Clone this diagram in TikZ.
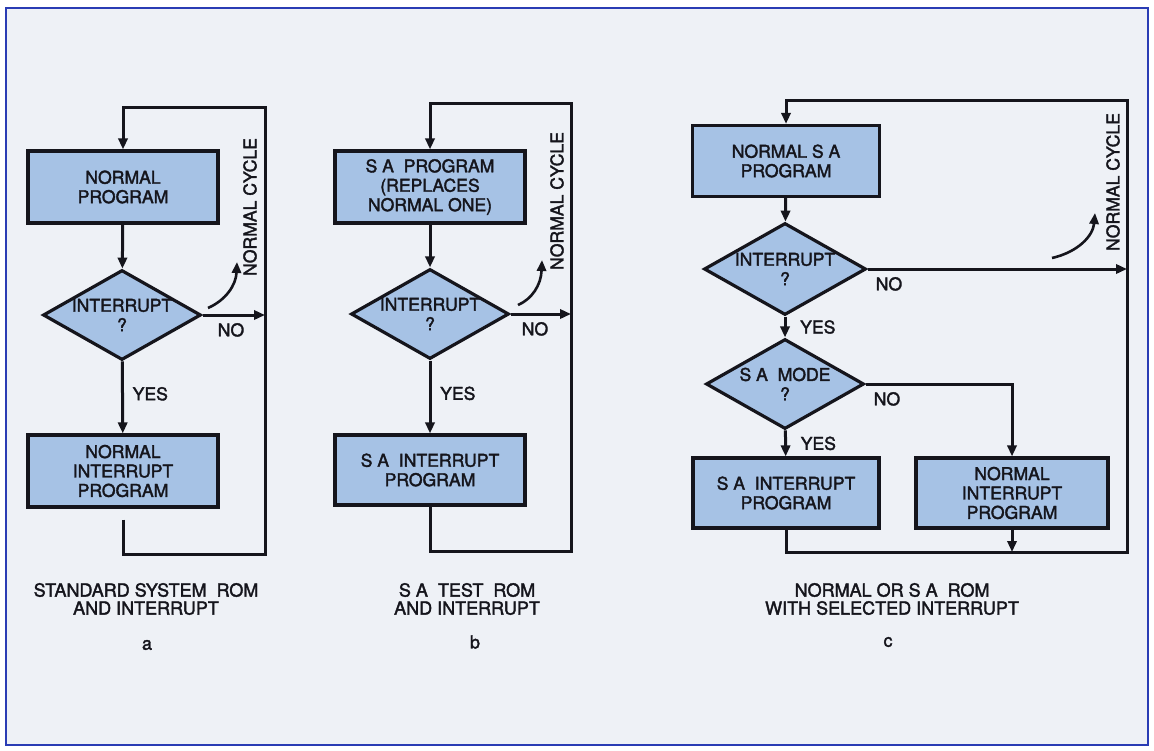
\documentclass[tikz,border=0pt]{standalone}
\usepackage{fontspec}
\setmainfont{TeX Gyre Heros}
\newfontfamily\diagfont{TeX Gyre Heros}[FakeBold=2]
\usepackage{xcolor}
\usepackage{tikz}
\usetikzlibrary{arrows.meta,shapes.geometric}
\definecolor{bluebox}{HTML}{A6C2E5}
\definecolor{bluerule}{HTML}{2A3CB4}
\definecolor{paper}{HTML}{EEF1F6}
\definecolor{inkdark}{HTML}{15151C}
\tikzset{every node/.append style={font=\diagfont\fontsize{8.8}{9.7}\selectfont,text=inkdark},
  prog/.style={draw=inkdark,fill=bluebox,line width=1.6pt,minimum width=95pt,minimum height=36pt,align=center,inner sep=0pt},
  query/.style={diamond,draw=inkdark,fill=bluebox,line width=1.6pt,minimum width=79pt,minimum height=45pt,aspect=1.76,align=center,inner sep=0pt},
  flow/.style={draw=inkdark,line width=1.5pt,->},
  curvearrow/.style={draw=inkdark,line width=1.3pt,->},
  cycletag/.style={rotate=90},
  caption/.style={align=center,font=\diagfont\fontsize{9}{9}\selectfont}}

\begin{document}
\begin{tikzpicture}[x=0.5pt,y=-0.5pt,>={Triangle[length=5.5pt,width=4.6pt]}]
\fill[white] (0,0) rectangle (1154,750);
\useasboundingbox (0,0) rectangle (1154,750);
\draw[bluerule,line width=1.3pt,fill=paper] (6,8) rectangle (1148,745);
\node[prog] (a1) at (123,187) {NORMAL\\PROGRAM};
\node[query] (a2) at (122,315) {INTERRUPT\\?};
\node[prog] (a3) at (123,471) {NORMAL\\INTERRUPT\\PROGRAM};
\coordinate (a4) at (265,554);
\coordinate (a5) at (123,107);
\node[cycletag] (a6) at (250,207) {NORMAL CYCLE};
\coordinate (a7) at (208,308);
\coordinate (a8) at (237,262);
\draw[flow] (a1) -- (a2);
\draw[flow] (a2) -- node[right=1pt,pos=.45] {YES} (a3);
\draw[flow] (a2.east) -- node[pos=0,below right,xshift=3.5pt] {NO} (a2.east -| a4);
\draw[flow,shorten <=5.5pt] (a3.south) |- (a4) |- (a5) -- (a1.north);
\draw[curvearrow] (a7) .. controls (226,300) and (236,285) .. (a8);
\node[caption] (a9) at (146,599) {STANDARD SYSTEM\ \ ROM\\AND INTERRUPT};
\node[caption] (a10) at (147,645) {a};
\node[prog] (b1) at (430,187) {S A\ \ PROGRAM\\(REPLACES\\NORMAL ONE)};
\node[query] (b2) at (430,314) {INTERRUPT\\?};
\node[prog,minimum height=35pt] (b3) at (430,470) {S A\ \ INTERRUPT\\PROGRAM};
\coordinate (b4) at (571,551);
\coordinate (b5) at (430,103);
\node[cycletag] (b6) at (557,201) {NORMAL CYCLE};
\coordinate (b7) at (518,305);
\coordinate (b8) at (542,260);
\draw[flow] (b1) -- (b2);
\draw[flow] (b2) -- node[right=1pt,pos=.45] {YES} (b3);
\draw[flow] (b2.east) -- node[pos=0,below right,xshift=1.5pt] {NO} (b2.east -| b4);
\draw[flow] (b3.south) |- (b4) |- (b5) -- (b1.north);
\draw[curvearrow] (b7) .. controls (532,299) and (541,285) .. (b8);
\node[caption] (b9) at (467,599) {S A\ \ TEST\ \ ROM\\AND INTERRUPT};
\node[caption] (b10) at (475,642) {b};
\node[prog,minimum width=93.5pt,minimum height=35.5pt] (c1) at (786,161) {NORMAL S A\\PROGRAM};
\node[query,minimum width=81pt,minimum height=46pt] (c2) at (785,269) {INTERRUPT\\?};
\node[query] (c3) at (785,384) {S A\ \ MODE\\?};
\node[prog,minimum width=93pt,minimum height=35pt] (c4) at (786,493) {S A\ \ INTERRUPT\\PROGRAM};
\node[prog,minimum width=96pt,minimum height=35pt] (c5) at (1012,493) {NORMAL\\INTERRUPT\\PROGRAM};
\coordinate (c6) at (1127,552);
\coordinate (c7) at (786,100);
\node[cycletag] (c8) at (1113,182) {NORMAL CYCLE};
\coordinate (c9) at (1052,258);
\coordinate (c10) at (1095,213);
\draw[flow] (c1) -- (c2);
\draw[flow] (c2) -- node[right=3.5pt] {YES} (c3);
\draw[flow] (c3) -- node[right=3.5pt] {YES} (c4);
\draw[flow] (c2.east) -- node[pos=0,below right] {NO} (c2.east -| c6);
\draw[flow] (c3.east) -| node[pos=0,below right] {NO} (c5.north);
\draw[flow] (c4.south) |- (c6) |- (c7) -- (c1.north);
\draw[flow] (c5.south) -- (c5.south |- c6);
\draw[curvearrow] (c9) .. controls (1078,252) and (1093,236) .. (c10);
\node[caption] (c11) at (892,599) {NORMAL OR S A\ \ ROM\\WITH SELECTED INTERRUPT};
\node[caption] (c12) at (888,642) {c};
\end{tikzpicture}
\end{document}
